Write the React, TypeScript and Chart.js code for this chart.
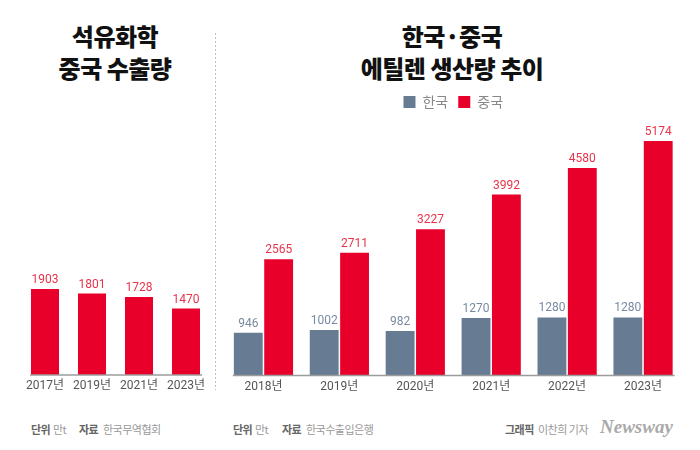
import React, { useEffect, useRef } from "react";
import { Chart, registerables } from "chart.js";
Chart.register(...registerables);

const exportYears = ["2017년", "2019년", "2021년", "2023년"];
const exportValues = [1903, 1801, 1728, 1470];
const prodYears = ["2018년", "2019년", "2020년", "2021년", "2022년", "2023년"];
const koreaValues = [946, 1002, 982, 1270, 1280, 1280];
const chinaValues = [2565, 2711, 3227, 3992, 4580, 5174];
const seriesNames = ["한국", "중국"];

const RED = "#e8002b";
const SLATE = "#677b93";
const RED_LABEL = "#e8334c";
const SLATE_LABEL = "#7a8ba1";
const NUM_FONT = "Roboto, 'Noto Sans CJK KR', sans-serif";
const KR_FONT = "'Noto Sans CJK KR', 'Noto Sans', sans-serif";

const valueLabels = {
  id: "valueLabels",
  afterDatasetsDraw(chart: any) {
    const ctx = chart.ctx;
    ctx.save();
    ctx.font = `12px ${NUM_FONT}`;
    ctx.textAlign = "center";
    ctx.textBaseline = "alphabetic";
    chart.data.datasets.forEach((ds: any, di: number) => {
      const meta = chart.getDatasetMeta(di);
      if (meta.hidden) return;
      ctx.fillStyle = ds.labelColor;
      meta.data.forEach((el: any, i: number) => {
        ctx.fillText(String(ds.data[i]), el.x, el.y - 6);
      });
    });
    ctx.restore();
  },
};

const baseline = {
  id: "baseline",
  afterDatasetsDraw(chart: any) {
    const ctx = chart.ctx;
    let minX = Infinity;
    let maxX = -Infinity;
    chart.getSortedVisibleDatasetMetas().forEach((m: any) => {
      m.data.forEach((el: any) => {
        minX = Math.min(minX, el.x - el.width / 2);
        maxX = Math.max(maxX, el.x + el.width / 2);
      });
    });
    const y = chart.scales.y.getPixelForValue(0);
    ctx.save();
    ctx.strokeStyle = "#9c9c9c";
    ctx.lineWidth = 1.5;
    ctx.beginPath();
    ctx.moveTo(minX - 1, y);
    ctx.lineTo(maxX + 2, y);
    ctx.stroke();
    ctx.restore();
  },
};

const xAxis = {
  grid: { display: false, drawTicks: false },
  border: { display: false },
  ticks: { color: "#555", font: { size: 12, family: NUM_FONT }, padding: 4 },
};

function LeftChart() {
  const ref = useRef<HTMLCanvasElement>(null);
  useEffect(() => {
    const chart = new Chart(ref.current!, {
      type: "bar",
      data: {
        labels: exportYears,
        datasets: [
          {
            label: "중국",
            data: exportValues,
            backgroundColor: RED,
            barPercentage: 0.596,
            categoryPercentage: 1,
            labelColor: RED_LABEL,
          } as any,
        ],
      },
      options: {
        responsive: false,
        animation: false,
        layout: { padding: { left: 21.5, right: 5.5, top: 126.4, bottom: 2.6 } },
        plugins: { legend: { display: false }, tooltip: { enabled: false } },
        scales: {
          x: xAxis as any,
          y: { display: false, min: 0, max: 5500 },
        },
      },
      plugins: [baseline, valueLabels],
    });
    return () => chart.destroy();
  }, []);
  return (
    <canvas
      ref={ref}
      width={215}
      height={400}
      style={{ position: "absolute", left: 0, top: 0, width: 215, height: 400 }}
    />
  );
}

function RightChart() {
  const ref = useRef<HTMLCanvasElement>(null);
  useEffect(() => {
    const chart = new Chart(ref.current!, {
      type: "bar",
      data: {
        labels: prodYears,
        datasets: [
          {
            label: seriesNames[0],
            data: koreaValues,
            backgroundColor: SLATE,
            barPercentage: 0.95,
            categoryPercentage: 0.8,
            labelColor: SLATE_LABEL,
          } as any,
          {
            label: seriesNames[1],
            data: chinaValues,
            backgroundColor: RED,
            barPercentage: 0.95,
            categoryPercentage: 0.8,
            labelColor: RED_LABEL,
          } as any,
        ],
      },
      options: {
        responsive: false,
        animation: false,
        layout: { padding: { left: 10.5, right: 19, top: 85, bottom: 2.1 } },
        plugins: {
          legend: {
            display: true,
            position: "top",
            labels: {
              boxWidth: 12,
              boxHeight: 12,
              color: "#888",
              padding: 10,
              font: { size: 14, family: KR_FONT },
            },
          },
          tooltip: { enabled: false },
        },
        scales: {
          x: xAxis as any,
          y: { display: false, min: 0, max: 5660 },
        },
      },
      plugins: [baseline, valueLabels],
    });
    return () => chart.destroy();
  }, []);
  return (
    <canvas
      ref={ref}
      width={485}
      height={400}
      style={{ position: "absolute", left: 215, top: 0, width: 485, height: 400 }}
    />
  );
}

const titleStyle: React.CSSProperties = {
  position: "absolute",
  top: 20,
  textAlign: "center",
  fontFamily: KR_FONT,
  fontWeight: 900,
  fontSize: 24,
  lineHeight: "32px",
  letterSpacing: "-0.5px",
  color: "#111",
};

const footBase: React.CSSProperties = {
  position: "absolute",
  top: 421,
  fontFamily: KR_FONT,
  fontSize: 11,
  lineHeight: "16px",
  letterSpacing: "-0.5px",
  whiteSpace: "nowrap",
};
const footBold: React.CSSProperties = { ...footBase, fontWeight: 700, color: "#666" };
const footReg: React.CSSProperties = { ...footBase, fontWeight: 400, color: "#999" };

export default function App() {
  return (
    <div
      style={{
        position: "absolute",
        left: 0,
        top: 0,
        width: 700,
        height: 450,
        background: "#fff",
        overflow: "hidden",
      }}
    >
      <div style={{ ...titleStyle, left: 0, width: 230 }}>
        석유화학
        <br />
        중국 수출량
      </div>
      <div style={{ ...titleStyle, left: 302, width: 300 }}>
        한국·중국
        <br />
        에틸렌 생산량 추이
      </div>
      <div
        style={{
          position: "absolute",
          left: 215,
          top: 33,
          width: 1,
          height: 357,
          background: "repeating-linear-gradient(to bottom, #bdbdbd 0 2px, transparent 2px 4px)",
        }}
      />
      <LeftChart />
      <RightChart />

      <span style={{ ...footBold, left: 31 }}>단위</span>
      <span style={{ ...footReg, left: 53 }}>만t</span>
      <span style={{ ...footBold, left: 79 }}>자료</span>
      <span style={{ ...footReg, left: 103 }}>한국무역협회</span>

      <span style={{ ...footBold, left: 233 }}>단위</span>
      <span style={{ ...footReg, left: 255 }}>만t</span>
      <span style={{ ...footBold, left: 282 }}>자료</span>
      <span style={{ ...footReg, left: 306 }}>한국수출입은행</span>

      <span style={{ ...footBold, left: 505 }}>그래픽</span>
      <span style={{ ...footReg, left: 538 }}>이찬희 기자</span>
      <span
        style={{
          position: "absolute",
          left: 600,
          top: 416,
          fontFamily: "'Liberation Serif', 'DejaVu Serif', serif",
          fontStyle: "italic",
          fontWeight: 700,
          fontSize: 19,
          color: "#a9a9a9",
          whiteSpace: "nowrap",
        }}
      >
        Newsway
      </span>
    </div>
  );
}
